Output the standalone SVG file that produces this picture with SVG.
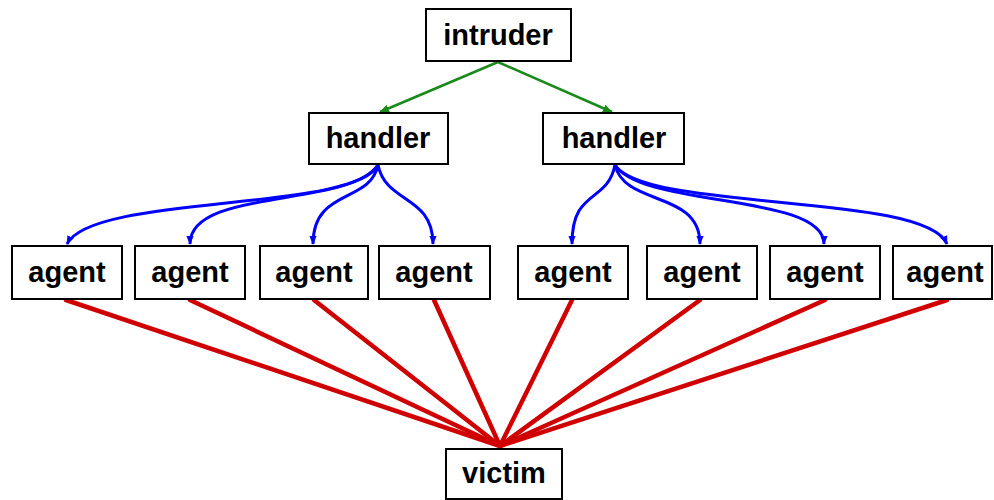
<svg xmlns="http://www.w3.org/2000/svg" width="994" height="500" viewBox="0 0 994 500">
<style>
.box{fill:#fff;stroke:#000;stroke-width:2}
.lbl{font-family:"Liberation Sans",Arial,sans-serif;font-weight:bold;font-size:29px;fill:#000;text-anchor:middle}
.g{stroke:#1a8a1a;stroke-width:2.5;fill:none}
.b{stroke:#0000ff;stroke-width:3;fill:none}
.r{stroke:#d00000;stroke-width:4.5;fill:none;stroke-linecap:round}
</style>
<defs>
<marker id="ag" viewBox="0 0 10 10" refX="9" refY="5" markerWidth="4" markerHeight="4" orient="auto" markerUnits="strokeWidth"><path d="M0,1 L10,5 L0,9 z" fill="#1a8a1a"/></marker>
<marker id="ab" viewBox="0 0 10 10" refX="9" refY="5" markerWidth="3" markerHeight="3" orient="auto" markerUnits="strokeWidth"><path d="M0,1 L10,5 L0,9 z" fill="#0000ff"/></marker>
</defs>
<rect width="994" height="500" fill="#fff"/>
<g id="connectors">
<path class="g" d="M498,62 L380,112" marker-end="url(#ag)"/>
<path class="g" d="M498,62 L612,112" marker-end="url(#ag)"/>
<path class="b" d="M378,165 C355,212 92,194 67,244" marker-end="url(#ab)"/>
<path class="b" d="M378,165 C348,208 190,188 190,244" marker-end="url(#ab)"/>
<path class="b" d="M378,165 C370,204 313,188 313,244" marker-end="url(#ab)"/>
<path class="b" d="M378,165 C386,204 433,195 433,244" marker-end="url(#ab)"/>
<path class="b" d="M615,165 C607,204 572,188 572,244" marker-end="url(#ab)"/>
<path class="b" d="M615,165 C625,207 700,190 700,244" marker-end="url(#ab)"/>
<path class="b" d="M615,165 C642,208 824,193 824,244" marker-end="url(#ab)"/>
<path class="b" d="M615,165 C645,212 925,192 947,244" marker-end="url(#ab)"/>
<path class="r" d="M66,300 L500,446"/>
<path class="r" d="M190,300 L500,446"/>
<path class="r" d="M314,300 L500,446"/>
<path class="r" d="M434,300 L500,446"/>
<path class="r" d="M572,300 L500,446"/>
<path class="r" d="M700,300 L500,446"/>
<path class="r" d="M825,300 L500,446"/>
<path class="r" d="M947,300 L500,446"/>
</g>
<g id="intruder"><rect class="box" x="426" y="9" width="145" height="52"/><text class="lbl" x="498" y="45">intruder</text></g>
<g id="handler1"><rect class="box" x="309" y="113" width="139" height="51"/><text class="lbl" x="378" y="148">handler</text></g>
<g id="handler2"><rect class="box" x="543" y="113" width="141" height="51"/><text class="lbl" x="614" y="148">handler</text></g>
<g id="agent1"><rect class="box" x="12" y="246" width="110" height="53"/><text class="lbl" x="67" y="282">agent</text></g>
<g id="agent2"><rect class="box" x="135" y="246" width="110" height="53"/><text class="lbl" x="190" y="282">agent</text></g>
<g id="agent3"><rect class="box" x="260" y="246" width="108" height="53"/><text class="lbl" x="314" y="282">agent</text></g>
<g id="agent4"><rect class="box" x="379" y="246" width="111" height="53"/><text class="lbl" x="434" y="282">agent</text></g>
<g id="agent5"><rect class="box" x="518" y="246" width="110" height="53"/><text class="lbl" x="573" y="282">agent</text></g>
<g id="agent6"><rect class="box" x="647" y="246" width="110" height="53"/><text class="lbl" x="702" y="282">agent</text></g>
<g id="agent7"><rect class="box" x="770" y="246" width="110" height="53"/><text class="lbl" x="825" y="282">agent</text></g>
<g id="agent8"><rect class="box" x="893" y="246" width="99" height="53"/><text class="lbl" x="945" y="282">agent</text></g>
<g id="victim"><rect class="box" x="446" y="449" width="116" height="50"/><text class="lbl" x="504" y="483">victim</text></g>
</svg>
